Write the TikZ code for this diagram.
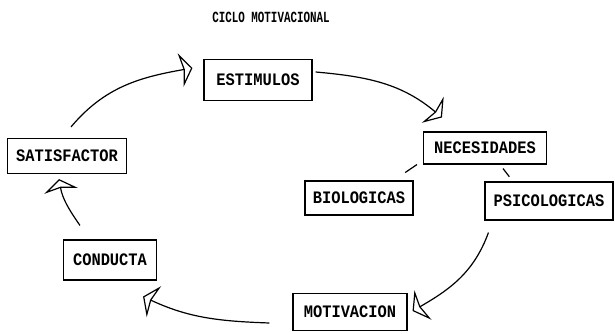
\documentclass[tikz,border=0pt]{standalone}
\usepackage{fontspec}
\setmonofont{Liberation Mono}
\newfontfamily\boxfont{Liberation Mono}[FakeStretch=0.88]
\newfontfamily\titlefont{Liberation Mono}[FakeStretch=0.7]
\usetikzlibrary{arrows.meta}
\usetikzlibrary{positioning}

\begin{document}
\begin{tikzpicture}[x=1pt, y=1pt,
    box/.style={draw=black, line width=1.1pt, inner sep=0pt, font=\boxfont\bfseries\fontsize{17.5}{18}\selectfont},
    link/.style={line width=1.2pt},
    tip/.style={link, -{Stealth[open, length=12pt, width=34pt, inset=3pt]}}]

        \useasboundingbox (0, 0) rectangle (615, 334);

        % Title
        \node (title) at (271, 317) {\titlefont\bfseries\fontsize{15.5}{16}\selectfont CICLO MOTIVACIONAL};

        % Boxes of the cycle
        \node[box, minimum width=108, minimum height=41] (est) at (258, 254) {ESTIMULOS};
        \node[box, minimum width=123, minimum height=32] (nec) at (485, 186) {NECESIDADES};
        \node[box, minimum width=108, minimum height=34] (bio) at (359, 136) {BIOLOGICAS};
        \node[box, minimum width=128, minimum height=38] (psi) at (549, 133) {PSICOLOGICAS};
        \node[box, minimum width=114, minimum height=37] (mot) at (350, 22) {MOTIVACION};
        \node[box, minimum width=93, minimum height=40] (con) at (110, 74) {CONDUCTA};
        \node[box, minimum width=119, minimum height=35] (sat) at (67, 178) {SATISFACTOR};

        % Arcs round the cycle
        \draw[tip] ([xshift=4pt, yshift=11pt]sat.north) to[out=50, in=190] ([xshift=-11pt, yshift=12pt]est.west);
        \draw[tip] ([xshift=3pt, yshift=8pt]est.east) to[out=-5, in=140] ([xshift=19pt, yshift=14pt]nec.north west);
        \draw[tip] ([xshift=4pt, yshift=-12pt]psi.south west) to[out=250, in=30] ([xshift=5pt, yshift=1pt]mot.east);
        \draw[tip] ([xshift=-23pt, yshift=-11pt]mot.west) to[out=178, in=-25] ([xshift=-14pt, yshift=-16pt]con.south east);
        \draw[tip] ([xshift=-30pt, yshift=14pt]con.north) to[out=125, in=-80] ([xshift=-8pt, yshift=-5pt]sat.south);

        % Kinds of needs
        \draw[link, shorten >=14pt] ([xshift=-6pt]nec.south west) -- ([xshift=-20pt]bio.north east);
        \draw[link, shorten >=6pt] ([xshift=18pt, yshift=-4pt]nec.south) -- ([xshift=-36pt]psi.north);

\end{tikzpicture}
\end{document}
